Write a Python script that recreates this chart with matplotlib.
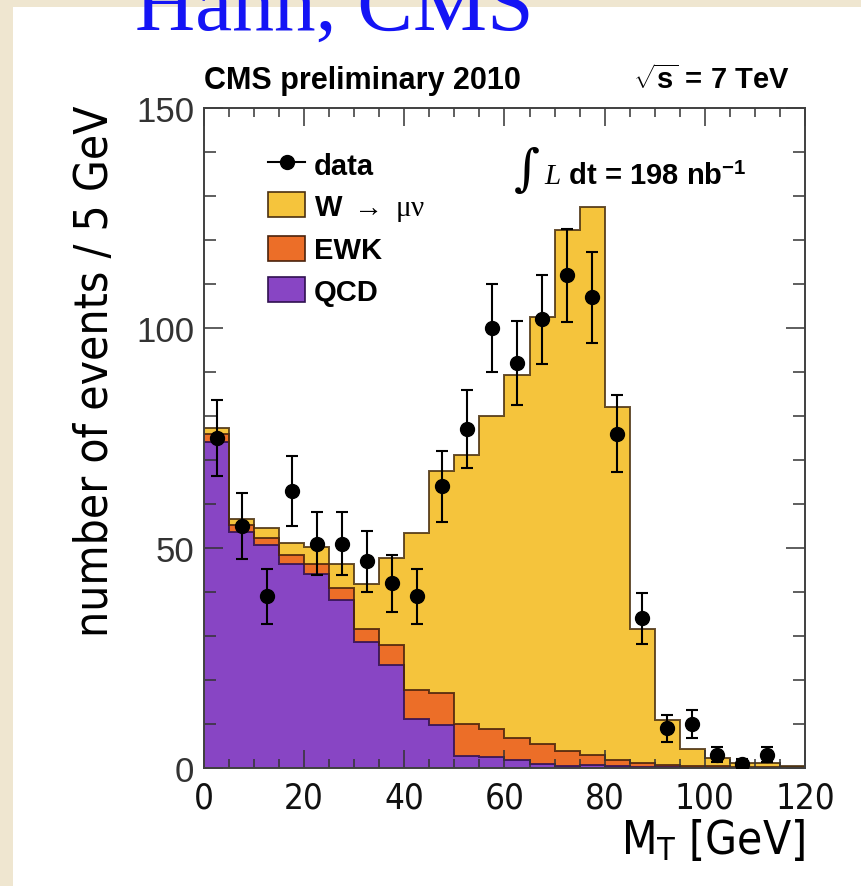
"""
CMS preliminary 2010: W -> mu nu 的 M_T 分布（堆叠直方图 + 数据点）。
"""

import numpy as np
import matplotlib
matplotlib.use("Agg")
import matplotlib.pyplot as plt
from matplotlib.patches import Patch, Rectangle
from matplotlib.lines import Line2D
from matplotlib.ticker import MultipleLocator

# ---- 数据（5 GeV 一个 bin，0-120 GeV） ----
bin_edges = np.arange(0, 125, 5)
qcd = [74.2, 53.6, 50.7, 46.4, 44.1, 38.2, 28.6, 23.4, 11.2, 9.8, 2.7, 2.6,
       1.9, 1.0, 0.5, 0.7, 0.35, 0.2, 0.15, 0.1, 0.1, 0.1, 0.1, 0.1]
ewk = [1.7, 1.6, 1.5, 2.0, 2.3, 2.6, 3.0, 4.6, 6.6, 7.2, 7.3, 6.3,
       4.9, 4.4, 3.3, 2.25, 1.55, 0.9, 0.55, 0.4, 0.3, 0.2, 0.2, 0.2]
wmunu = [1.3, 1.5, 2.4, 2.7, 3.9, 5.6, 10.2, 19.7, 35.6, 50.4, 61.1, 71.2,
         82.6, 97.2, 118.5, 124.6, 80.1, 30.5, 10.2, 3.8, 1.9, 0.8, 0.8, 0.2]
data = [75, 55, 39, 63, 51, 51, 47, 42, 39, 64, 77, 100,
        92, 102, 112, 107, 76, 34, 9, 10, 3, 1, 3, 0]
data_err = [8.7, 7.4, 6.2, 7.9, 7.1, 7.1, 6.9, 6.5, 6.2, 8.0, 8.8, 10.0,
            9.6, 10.1, 10.6, 10.3, 8.7, 5.8, 3.0, 3.2, 1.7, 1.0, 1.7, 0.0]

# ---- 样式 ----
C_W, C_EWK, C_QCD = "#F5C43C", "#EC6E28", "#8845C4"
E_W, E_EWK, E_QCD = "#4A3010", "#4A220C", "#301050"
SANS = ["Liberation Sans", "DejaVu Sans"]
NARROW = dict(family="DejaVu Sans", stretch="condensed")   # 窄体（横轴/轴标题）

plt.rcParams["mathtext.fontset"] = "custom"
plt.rcParams["mathtext.rm"] = "Liberation Serif"
plt.rcParams["mathtext.it"] = "Liberation Serif:italic"
plt.rcParams["mathtext.bf"] = "Liberation Sans:bold"

fig = plt.figure(figsize=(8.62, 8.87), dpi=100, facecolor="#EFE6D0")
# 白色幻灯片底板（放在坐标轴下面）
fig.patches.append(Rectangle((13 / 862, 0), 1, 1 - 8 / 887, transform=fig.transFigure,
                             facecolor="white", edgecolor="none", zorder=-1))
fig.text(135 / 862, 1 - 30 / 887, "Hahn, CMS", family="Liberation Serif",
         fontsize=60, color="#1414F5", va="baseline")

ax = fig.add_axes([204 / 862, 1 - 769 / 887, 601 / 862, 660 / 887])
ax.set_facecolor("white")

centers = 0.5 * (bin_edges[:-1] + bin_edges[1:])
ax.hist([centers] * 3, bins=bin_edges, weights=[qcd, ewk, wmunu], stacked=True,
        histtype="stepfilled", color=[C_QCD, C_EWK, C_W],
        edgecolor=None, linewidth=0)
# 轮廓线
bottom = np.zeros(len(qcd))
for vals, ec in [(qcd, E_QCD), (ewk, E_EWK), (wmunu, E_W)]:
    top = bottom + np.array(vals)
    ax.stairs(top, bin_edges, baseline=None, color=ec, lw=1.4, alpha=0.85)
    bottom = top

d = np.array(data, dtype=float)
m = d > 0
ax.errorbar(centers[m], d[m], yerr=np.array(data_err)[m], fmt="o", color="black",
            ms=10, elinewidth=1.5, capsize=4, capthick=1.5, zorder=5)

ax.set_xlim(0, 120)
ax.set_ylim(0, 150)
ax.xaxis.set_major_locator(MultipleLocator(20))
ax.xaxis.set_minor_locator(MultipleLocator(5))
ax.yaxis.set_major_locator(MultipleLocator(50))
ax.yaxis.set_minor_locator(MultipleLocator(10))
ax.tick_params(which="both", direction="in", top=True, right=True,
               color="#333333", width=1.1)
ax.tick_params(axis="x", which="major", length=13, pad=9, labelsize=25,
               labelcolor="#111111")
ax.tick_params(axis="x", which="minor", length=6.5)
ax.tick_params(axis="y", which="major", length=14, pad=7, labelsize=25,
               labelcolor="#333333")
ax.tick_params(axis="y", which="minor", length=8.5)
for lab in ax.get_xticklabels():
    lab.set(**NARROW)
for lab in ax.get_yticklabels():
    lab.set_family(SANS)
for sp in ax.spines.values():
    sp.set_linewidth(1.4)
    sp.set_color("#404040")

ax.set_ylabel("number of events / 5 GeV", fontsize=33, loc="top", **NARROW)
ax.yaxis.set_label_coords(-0.143, 1.005)
ax.set_xlabel(r"M$_\mathregular{T}$ [GeV]", fontsize=33, loc="right", **NARROW)
ax.xaxis.set_label_coords(1.0, -0.075)

# 顶部标注
ax.text(0.0, 1.03, "CMS preliminary 2010", transform=ax.transAxes, family=SANS,
        fontsize=22, fontweight="bold", va="baseline", ha="left")
ax.text(0.975, 1.03, r"$\sqrt{\mathbf{s}}$ = 7 TeV", transform=ax.transAxes,
        family=SANS, fontsize=21, fontweight="bold", va="baseline", ha="right")
ax.text(0.515, 0.885, "\u222b", transform=ax.transAxes, family="DejaVu Serif",
        fontsize=36, va="baseline", ha="left")
ax.text(0.565, 0.885, r"$\mathit{L}$ dt = 198 nb$^{\mathbf{-1}}$", transform=ax.transAxes,
        family=SANS, fontsize=21, fontweight="bold", va="baseline", ha="left")

# 图例
handles = [
    Line2D([], [], color="black", marker="o", ms=10, lw=1.5),
    Patch(facecolor=C_W, edgecolor=E_W, lw=1.2),
    Patch(facecolor=C_EWK, edgecolor=E_EWK, lw=1.2),
    Patch(facecolor=C_QCD, edgecolor=E_QCD, lw=1.2),
]
labels = ["data", r"W $\rightarrow$ $\mathrm{\mu\nu}$", "EWK", "QCD"]
ax.legend(handles, labels, loc="upper left", bbox_to_anchor=(0.107, 0.935),
          frameon=False, borderpad=0, borderaxespad=0, handlelength=1.25,
          handleheight=0.95, handletextpad=0.3, labelspacing=0.44,
          prop={"family": SANS, "weight": "bold", "size": 21})

fig.savefig("out.png", dpi=100, facecolor=fig.get_facecolor())
